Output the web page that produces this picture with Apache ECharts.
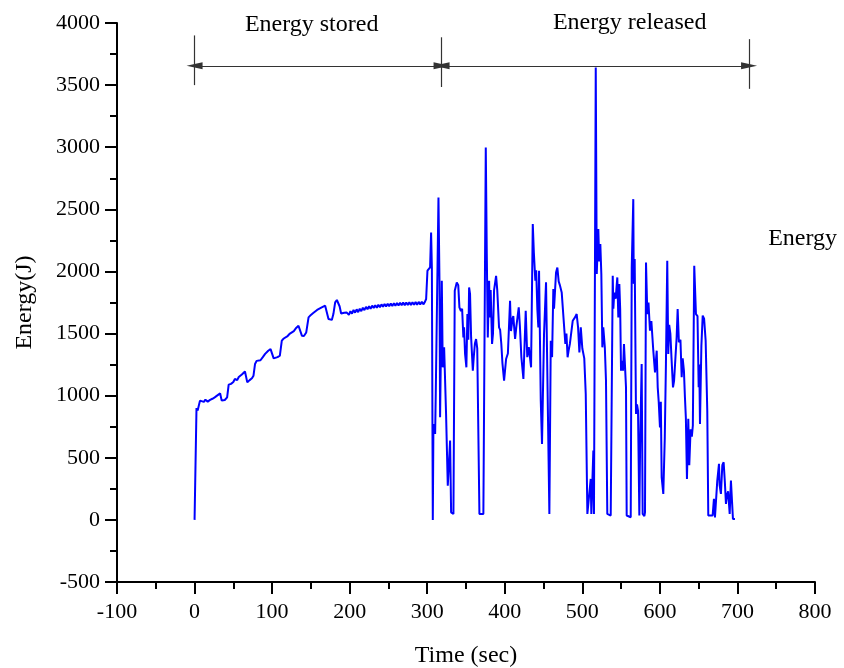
<!DOCTYPE html>
<html>
<head>
<meta charset="utf-8">
<script src="https://cdn.jsdelivr.net/npm/echarts@6/dist/echarts.min.js"></script>
<style>html,body{margin:0;padding:0;background:#fff}#c{width:844px;height:668px}</style>
</head>
<body>
<div id="c"></div>
<script>
// Time (sec)
const timeSec = [0,2,2.5,4,5,7,9,12,14,17,20,23,26,29,31,33,35,37,39,42,44,47,50,52,55,57,59,61,63,65,66.5,68,71,74,76,78,80,82.5,85,88,91,93,95,98,100.5,102,104,107,110,112.5,115,117,120,123,125.5,128,131,134,136,138.4,141,144,146,147,150,153,155.5,158,161,164,166,168.4,170,172.7,175,177,179,181.3,183.5,185,187,189,191,193,196,
199,201,203,205,207,209,211,213,215,217,219,221,223,225,227,229,231,233,235,237,239,241,243,245,247,249,251,253,255,257,259,261,263,265,267,269,271,273,275,277,279,281,283,285,287,289,291,293,295,297,
298.6,300.3,302.8,303.7,305,306,307.2,308,310.2,311,312.5,314.5,315.8,316.6,318.8,320,321.8,324.3,326.5,329.5,330.8,333.8,335.5,338.1,340,341.5,343.5,345,346.6,347.5,348.8,350.5,351.8,353,354,355.2,356.6,357.8,358.8,360,361.5,363,364.5,366,367.3,372.4,374.5,375.5,376.8,378.1,379.8,380.6,381.8,383.6,384.8,386.2,388.8,390.3,392.6,394,395.5,397,399.1,401.7,404,406.8,408,410,411,413.3,415,418,419.5,421.4,424,427,429,431,433.9,436.1,437.5,439.4,440.5,442,443.3,444.2,446.4,448,450.6,453.2,454.5,457.5,459.3,461,462.6,463.5,466.1,467.8,469.5,471,473.4,475.5,478.1,479.5,481,482.5,484,487.6,490.5,492.7,494.5,496.2,498,500,502.5,504.4,506.5,509,510.8,511.6,514.2,515,517.3,518.6,520.6,521.8,523.2,524.5,525.8,527,529,530.5,532.2,536.6,539.2,540,541.2,543,545.1,546.4,547.7,548.8,549.9,551.2,552.5,553.7,555,556.3,557.2,562.4,563.7,565.7,566.3,567.5,569.2,570.5,571.8,573.5,574.5,576.5,577.8,580,580.8,582.1,583.8,585.3,587.2,589,591.5,593.7,595.9,597.2,598.5,600.1,601.2,602.3,604.4,606.3,607.8,609.5,610.8,612,613.5,615,616.9,618.3,620,621.6,622.9,624.5,626.5,628.1,629.4,631,632.3,633.5,634.9,636.6,637.9,639.6,641.2,642.5,644.3,646.5,648.5,650,650.8,651.7,653.5,655.2,657,659,661.1,662.4,668,669.7,671,673.2,674,675.3,676.2,677,678.7,680.5,682.2,683.8,685.2,686.5,688,690,691.6,693,694.2,696.8];
// Energy (J)
const energyJ = [0,0,900,880,890,960,965,950,968,952,966,975,986,1000,1013,1018,960,955,965,986,1089,1095,1110,1134,1125,1150,1140,1170,1180,1195,1201,1107,1125,1140,1161,1255,1280,1295,1285,1310,1336,1325,1362,1375,1389,1300,1295,1310,1322,1443,1460,1469,1480,1500,1509,1520,1545,1563,1565,1483,1480,1509,1520,1630,1650,1665,1670,1690,1700,1710,1720,1724,1720,1617,1625,1610,1657,1751,1770,1760,1720,1662,1650,1668,1670,
1650,1680,1660,1690,1668,1695,1672,1700,1680,1708,1688,1715,1695,1720,1700,1725,1705,1728,1708,1732,1712,1735,1716,1738,1718,1740,1720,1742,1722,1744,1724,1746,1726,1748,1728,1750,1728,1750,1730,1752,1730,1752,1732,1754,1732,1755,1734,1756,1735,1755,
1778,2006,2019,2032,2314,2030,0,772,692,1014,1000,2595,1925,826,1925,1228,1389,853,276,638,61,48,1845,1912,1890,1711,1680,1700,1469,1550,1336,1228,1657,1450,1871,1820,1469,1480,1201,1310,1420,1456,1380,1390,48,48,48,2998,2140,1469,1925,1630,1850,1416,1500,1850,1965,1850,1550,1530,1420,1260,1121,1295,1340,1764,1520,1620,1640,1456,1560,1711,1560,1309,1134,1684,1310,1390,1228,2381,2150,1925,2010,1697,1550,2006,960,611,1496,1912,1900,48,1443,1310,1858,1700,1992,2032,1920,1890,1831,1820,1416,1500,1309,1370,1420,1603,1630,1657,1550,1348,1550,1380,1300,1014,48,40,330,48,558,48,3641,1980,2341,2080,2220,1980,1389,1550,1389,1121,48,35,1965,1700,1831,1780,1952,1630,1899,1700,1201,1280,1201,1416,1416,1067,35,21,2032,2582,1900,2100,853,930,880,35,600,1255,48,30,61,2072,1657,1750,1523,1600,1362,1188,1362,1067,950,745,950,343,209,660,1260,2086,1336,1570,1500,1300,1067,1120,1300,1469,1697,1430,1450,1148,1300,1200,986,820,330,813,440,730,670,760,2046,1657,1640,1067,1250,772,1400,1644,1620,1443,879,35,35,170,20,8,316,330,451,280,209,440,464,300,129,200,230,48,316,150,8,8];

const xTicks = {min: -100, max: 800, step: 100};
const yTicks = {min: -500, max: 4000, step: 500};
const phaseBounds = [0, 318.5, 715];
const phaseLabels = ['Energy stored', 'Energy released'];
const sideLabel = 'Energy';

const FONT = 'Liberation Serif';
const chart = echarts.init(document.getElementById('c'), null, {renderer: 'canvas'});
const pts = timeSec.map((t, i) => [t, energyJ[i]]);

const arrowY = 3655;
const annLine = {color: '#333', width: 1.2, type: 'solid'};
const aSym = {symbol: 'triangle', symbolSize: [7, 16]};
const markLines = [
  [Object.assign({coord: [phaseBounds[0], arrowY]}, aSym), Object.assign({coord: [phaseBounds[1], arrowY]}, aSym)],
  [Object.assign({coord: [phaseBounds[1], arrowY]}, aSym), Object.assign({coord: [phaseBounds[2], arrowY]}, aSym)],
  [{coord: [phaseBounds[0], 3500], symbol: 'none'}, {coord: [phaseBounds[0], 3900], symbol: 'none'}],
  [{coord: [phaseBounds[1], 3485], symbol: 'none'}, {coord: [phaseBounds[1], 3885], symbol: 'none'}],
  [{coord: [phaseBounds[2], 3470], symbol: 'none'}, {coord: [phaseBounds[2], 3870], symbol: 'none'}]
];

const plain = v => String(v);

chart.setOption({
  animation: false,
  backgroundColor: '#fff',
  grid: {left: 117, right: 29, top: 23, bottom: 86, containLabel: false, outerBoundsMode: 'none'},
  xAxis: {
    type: 'value', min: xTicks.min, max: xTicks.max, interval: xTicks.step,
    name: 'Time (sec)', nameLocation: 'middle', nameGap: 62,
    nameTextStyle: {fontFamily: FONT, fontSize: 24, color: '#000'},
    axisLine: {show: true, onZero: false, lineStyle: {color: '#000', width: 2}},
    axisTick: {show: true, inside: false, length: 12, lineStyle: {color: '#000', width: 2}},
    minorTick: {show: true, splitNumber: 2, length: 7, lineStyle: {color: '#000', width: 2}},
    axisLabel: {fontFamily: FONT, fontSize: 22, color: '#000', margin: 19, formatter: plain},
    splitLine: {show: false}
  },
  yAxis: {
    type: 'value', min: yTicks.min, max: yTicks.max, interval: yTicks.step,
    name: 'Energy(J)', nameLocation: 'middle', nameGap: 80, nameRotate: 90,
    nameTextStyle: {fontFamily: FONT, fontSize: 24, color: '#000'},
    axisLine: {show: true, onZero: false, lineStyle: {color: '#000', width: 2}},
    axisTick: {show: true, inside: false, length: 12, lineStyle: {color: '#000', width: 2}},
    minorTick: {show: true, splitNumber: 2, length: 7, lineStyle: {color: '#000', width: 2}},
    axisLabel: {fontFamily: FONT, fontSize: 22, color: '#000', margin: 17, formatter: plain},
    splitLine: {show: false}
  },
  series: [{
    type: 'line',
    data: pts,
    showSymbol: false,
    symbol: 'none',
    lineStyle: {color: '#0000ff', width: 2},
    itemStyle: {color: '#0000ff'},
    markLine: {
      silent: true, animation: false,
      lineStyle: annLine,
      itemStyle: {color: '#000'},
      label: {show: false},
      data: markLines
    },
    markPoint: {
      silent: true, animation: false,
      symbol: 'circle', symbolSize: 1,
      itemStyle: {color: 'rgba(0,0,0,0)'},
      label: {show: true, position: 'inside', fontFamily: FONT, fontSize: 24, color: '#000'},
      data: [
        {coord: [151, 3985], label: {formatter: phaseLabels[0]}},
        {coord: [561, 4000], label: {formatter: phaseLabels[1]}},
        {coord: [784, 2263], label: {formatter: sideLabel}}
      ]
    }
  }]
});
</script>
</body>
</html>
